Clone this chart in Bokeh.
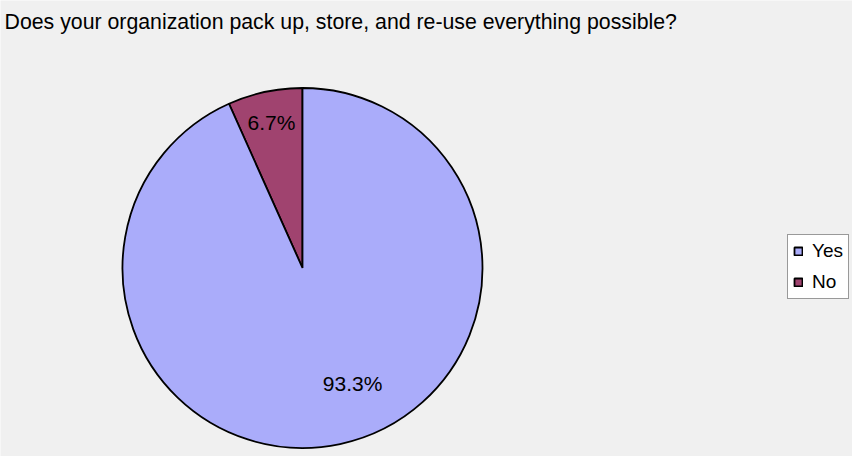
import math
from bokeh.plotting import figure
from bokeh.models import Range1d, Label, Legend, LegendItem, ColumnDataSource
from bokeh.embed import file_html
from bokeh.resources import INLINE

# ---- data ----
title_text = "Does your organization pack up, store, and re-use everything possible?"
categories = ["Yes", "No"]
percents = [93.3, 6.7]
colors = ["#aaacfa", "#a0436f"]

# ---- layout ----
W, H = 852, 456
cx, cy, R = 302, 188.5, 180
FONT = "Liberation Sans"

p = figure(width=W, height=H, output_backend="svg", toolbar_location=None,
           x_range=Range1d(0, W), y_range=Range1d(0, H), min_border=0,
           background_fill_color="#f0f0f0", border_fill_color="#f0f0f0",
           outline_line_color=None)
p.axis.visible = False
p.grid.visible = False

# slices: "No" begins at 12 o'clock going counter-clockwise, "Yes" fills the rest
total = sum(percents)
order = [1, 0]
start = math.pi / 2
starts, ends = {}, {}
for i in order:
    sweep = 2 * math.pi * percents[i] / total
    starts[i] = start
    ends[i] = start + sweep
    start += sweep

renderers = {}
for i in order:
    src = ColumnDataSource(dict(x=[cx], y=[cy], s=[starts[i]], e=[ends[i]]))
    renderers[i] = p.wedge(x="x", y="y", radius=R, start_angle="s", end_angle="e",
                           source=src, fill_color=colors[i], line_color="black",
                           line_width=1.8)

# percentage labels (polar placement: radius, angle in degrees)
label_pos = {0: (126, 293.4), 1: (149, 102.0)}
for i in order:
    r, a = label_pos[i]
    ar = math.radians(a)
    p.add_layout(Label(x=cx + r * math.cos(ar), y=cy + r * math.sin(ar),
                       text=f"{percents[i]:.1f}%", text_align="center",
                       text_baseline="middle", text_font=FONT,
                       text_font_size="21px", text_color="black"))

# title
p.add_layout(Label(x=4, y=H - 21, x_units="screen", y_units="screen",
                   text=title_text, text_font=FONT, text_font_size="21.3px",
                   text_baseline="middle", text_align="left", text_color="black"))

legend = Legend(items=[LegendItem(label=categories[i], renderers=[renderers[i]]) for i in [0, 1]],
                location=(787, 157), orientation="vertical",
                background_fill_color="white", background_fill_alpha=1.0,
                border_line_color="#333333", border_line_width=1,
                label_text_font=FONT, label_text_font_size="19px",
                label_text_color="black",
                glyph_width=10, glyph_height=10, label_standoff=9,
                label_height=20, spacing=9, padding=5, margin=0)
p.add_layout(legend)

open("out.html", "w").write(file_html(p, INLINE))
